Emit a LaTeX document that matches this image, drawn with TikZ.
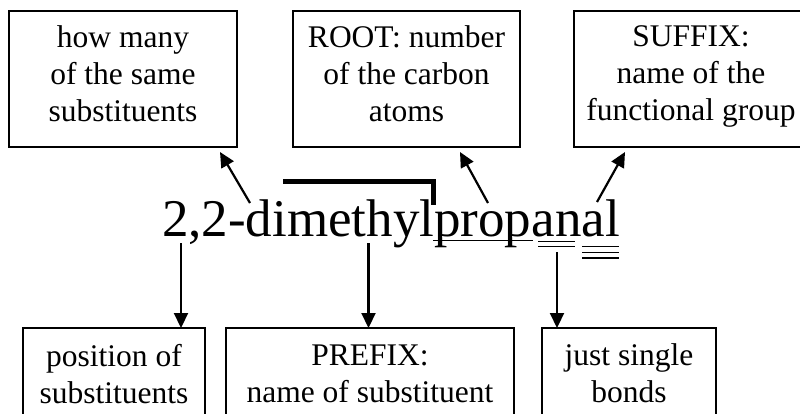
\documentclass[tikz,border=0pt]{standalone}
\usepackage{fontspec}
\setmainfont{Liberation Serif}
\usetikzlibrary{arrows.meta}
\begin{document}
\begin{tikzpicture}[x=1pt,y=-1pt,
  box/.style={draw,line width=1.6pt,inner sep=0pt,outer sep=0pt,align=center,
    font=\fontsize{31.5}{37}\selectfont},
  main/.style={inner sep=0pt,outer sep=0pt,anchor=base west,font=\fontsize{53}{60}\selectfont},
  arr/.style={line width=2.2pt,-{Triangle[length=15pt,width=14pt]}},
  uline/.style={line width=1.6pt}]
\useasboundingbox (0,0) rectangle (800,414);
\fill[white] (0,0) rectangle (800,414);
\clip (0,0) rectangle (800,414);
% top boxes
\node[box,minimum width=228pt,minimum height=136pt] (b1) at (123,79) {how many\\of the same\\substituents\strut};
\node[box,minimum width=227pt,minimum height=136pt] (b2) at (406.5,79) {ROOT: number\\of the carbon\\atoms\strut};
\node[box,minimum width=234pt,minimum height=136pt] (b3) at (691,79) {SUFFIX:\\name of the\\functional group\strut};
% bottom boxes
\node[box,minimum width=182pt,minimum height=102pt] (b4) at (114,379) {position of\\substituents\strut};
\node[box,minimum width=288pt,minimum height=102pt] (b5) at (370,379) {PREFIX:\\name of substituent\strut};
\node[box,minimum width=174pt,minimum height=102pt] (b6) at (629,379) {just single\\bonds\strut};
% main name
\node[main] (n1) at (162,236) {2,2-};
\node[main] (n2) at (n1.base east) {dimethyl};
\node[main] (n3) at (n2.base east) {prop};
\node[main] (n4) at (n3.base east) {an};
\node[main] (n5) at (n4.base east) {al};
% bracket over dimethyl
\draw[line width=5.5pt,miter limit=10] (283,181.5) -- (433.5,181.5) -- (433.5,205);
% underlines
\draw[uline] (433,240.5) -- (533,240.5);
\draw[uline] (538,241.5) -- (575,241.5);
\draw[uline] (538,246.5) -- (575,246.5);
\draw[uline] (582,246.5) -- (619,246.5);
\draw[uline] (582,252.3) -- (619,252.3);
\draw[uline] (582,258) -- (619,258);
% arrow end points
\coordinate (a1) at (250,203);
\coordinate (t1) at (220,152);
\coordinate (a2) at (488,203);
\coordinate (t2) at (460,152);
\coordinate (a3) at (597,202);
\coordinate (t3) at (625,152);
\coordinate (d1) at (181,243);
\coordinate (d2) at (368.5,243);
\coordinate (d3) at (557,252);
% arrows
\draw[arr] (a1) -- (t1);
\draw[arr] (a2) -- (t2);
\draw[arr] (a3) -- (t3);
\draw[arr] (d1) -- (d1 |- b4.north);
\draw[arr] (d2) -- (d2 |- b5.north);
\draw[arr] (d3) -- (d3 |- b6.north);
\end{tikzpicture}
\end{document}
